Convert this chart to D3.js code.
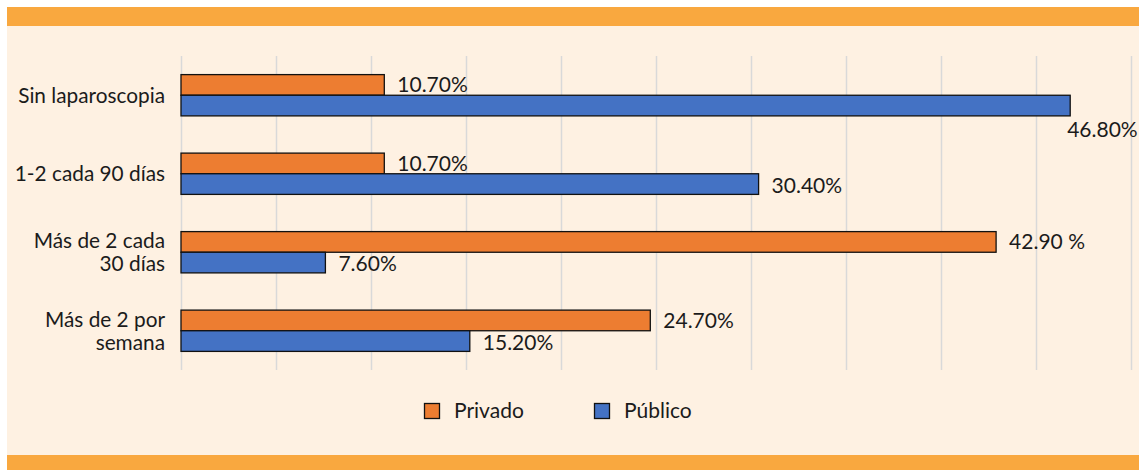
<!DOCTYPE html>
<html>
<head>
<meta charset="utf-8">
<script src="https://cdn.jsdelivr.net/npm/d3@7"></script>
<style>
  body { margin: 0; background: #ffffff; }
  svg { display: block; }
  text { font-family: Lato, "Open Sans", sans-serif; fill: #1b1b1b; }
</style>
</head>
<body>
<svg id="chart"></svg>
<script>
// categories (top to bottom)
var categories = ["Sin laparoscopia", "1-2 cada 90 días", "Más de 2 cada 30 días", "Más de 2 por semana"];
var categoryLines = [["Sin laparoscopia"], ["1-2 cada 90 días"], ["Más de 2 cada", "30 días"], ["Más de 2 por", "semana"]];
var series = ["Privado", "Público"];
var privado = [10.7, 10.7, 42.9, 24.7];
var publico = [46.8, 30.4, 7.6, 15.2];
var privadoLabels = ["10.70%", "10.70%", "42.90 %", "24.70%"];
var publicoLabels = ["46.80%", "30.40%", "7.60%", "15.20%"];

var width = 1139;
var height = 470;
var colors = {"Privado": "#ED7D31", "Público": "#4472C4"};

var svg = d3.select("#chart")
    .attr("width", width)
    .attr("height", height)

// background and orange bands
svg.append("rect").attr("x", 7).attr("y", 7).attr("width", width - 7).attr("height", height - 7).attr("fill", "#FEF1E2")
svg.append("rect").attr("x", 7).attr("y", 7).attr("width", width - 7).attr("height", 19).attr("fill", "#F9A83F")
svg.append("rect").attr("x", 7).attr("y", 455).attr("width", width - 7).attr("height", 15).attr("fill", "#F9A83F")

var plotLeft = 181, plotRight = 1131, plotTop = 56, plotBottom = 370;

var xScale = d3.scaleLinear()
    .domain([0, 50])
    .range([plotLeft, plotRight])

var yScale = d3.scaleBand()
    .domain(categories)
    .range([plotTop, plotBottom])
    .paddingInner(0.474)
    .paddingOuter(0.237)

var inner = d3.scaleBand()
    .domain(series)
    .range([0, yScale.bandwidth()])

// gridlines
svg.append("g")
    .selectAll("line")
    .data(xScale.ticks(10))
    .enter()
    .append("line")
    .attr("x1", function(d) { return Math.round(xScale(d)) + 0.5 })
    .attr("x2", function(d) { return Math.round(xScale(d)) + 0.5 })
    .attr("y1", plotTop)
    .attr("y2", plotBottom)
    .attr("stroke", "#D9D9D9")
    .attr("stroke-width", 1.5)

// category labels
categories.forEach(function(cat, i) {
    var lines = categoryLines[i];
    var cy = yScale(cat) + yScale.bandwidth() / 2;
    var t = svg.append("text")
        .attr("text-anchor", "end")
        .attr("font-size", 20.8)
        .attr("x", 165)
        .attr("y", cy - (lines.length - 1) * 11.5)
    lines.forEach(function(l, j) {
        t.append("tspan")
            .attr("x", 165)
            .attr("dy", j == 0 ? "0.35em" : "23")
            .text(l)
    })
})

var rows = [];
categories.forEach(function(cat, i) {
    rows.push({cat: cat, s: "Privado", v: privado[i], label: privadoLabels[i]});
    rows.push({cat: cat, s: "Público", v: publico[i], label: publicoLabels[i]});
})

svg.append("g")
    .selectAll("rect")
    .data(rows)
    .enter()
    .append("rect")
    .attr("x", xScale(0))
    .attr("y", function(d) { return yScale(d.cat) + inner(d.s) })
    .attr("width", function(d) { return xScale(d.v) - xScale(0) })
    .attr("height", inner.bandwidth())
    .attr("fill", function(d) { return colors[d.s] })
    .attr("stroke", "#111")
    .attr("stroke-width", 1.3)

// value labels
svg.append("g")
    .selectAll("text")
    .data(rows)
    .enter()
    .append("text")
    .attr("font-size", 21)
    .attr("x", function(d) {
        if (xScale(d.v) + 80 > width) return xScale(d.v) - 3;
        return xScale(d.v) + 13;
    })
    .attr("y", function(d) {
        var cy = yScale(d.cat) + inner(d.s) + inner.bandwidth() / 2;
        if (xScale(d.v) + 80 > width) return cy + 24;
        return d.s == "Público" ? cy + 1.5 : cy;
    })
    .attr("dy", "0.35em")
    .text(function(d) { return d.label })

// legend
var legendX = [424, 594];
series.forEach(function(s, i) {
    svg.append("rect")
        .attr("x", legendX[i] + 0.5)
        .attr("y", 403.5)
        .attr("width", 15)
        .attr("height", 15)
        .attr("fill", colors[s])
        .attr("stroke", "#111")
        .attr("stroke-width", 1.3)
    svg.append("text")
        .attr("x", legendX[i] + 30)
        .attr("y", 411)
        .attr("dy", "0.35em")
        .attr("font-size", 21)
        .text(s)
})
</script>
</body>
</html>
